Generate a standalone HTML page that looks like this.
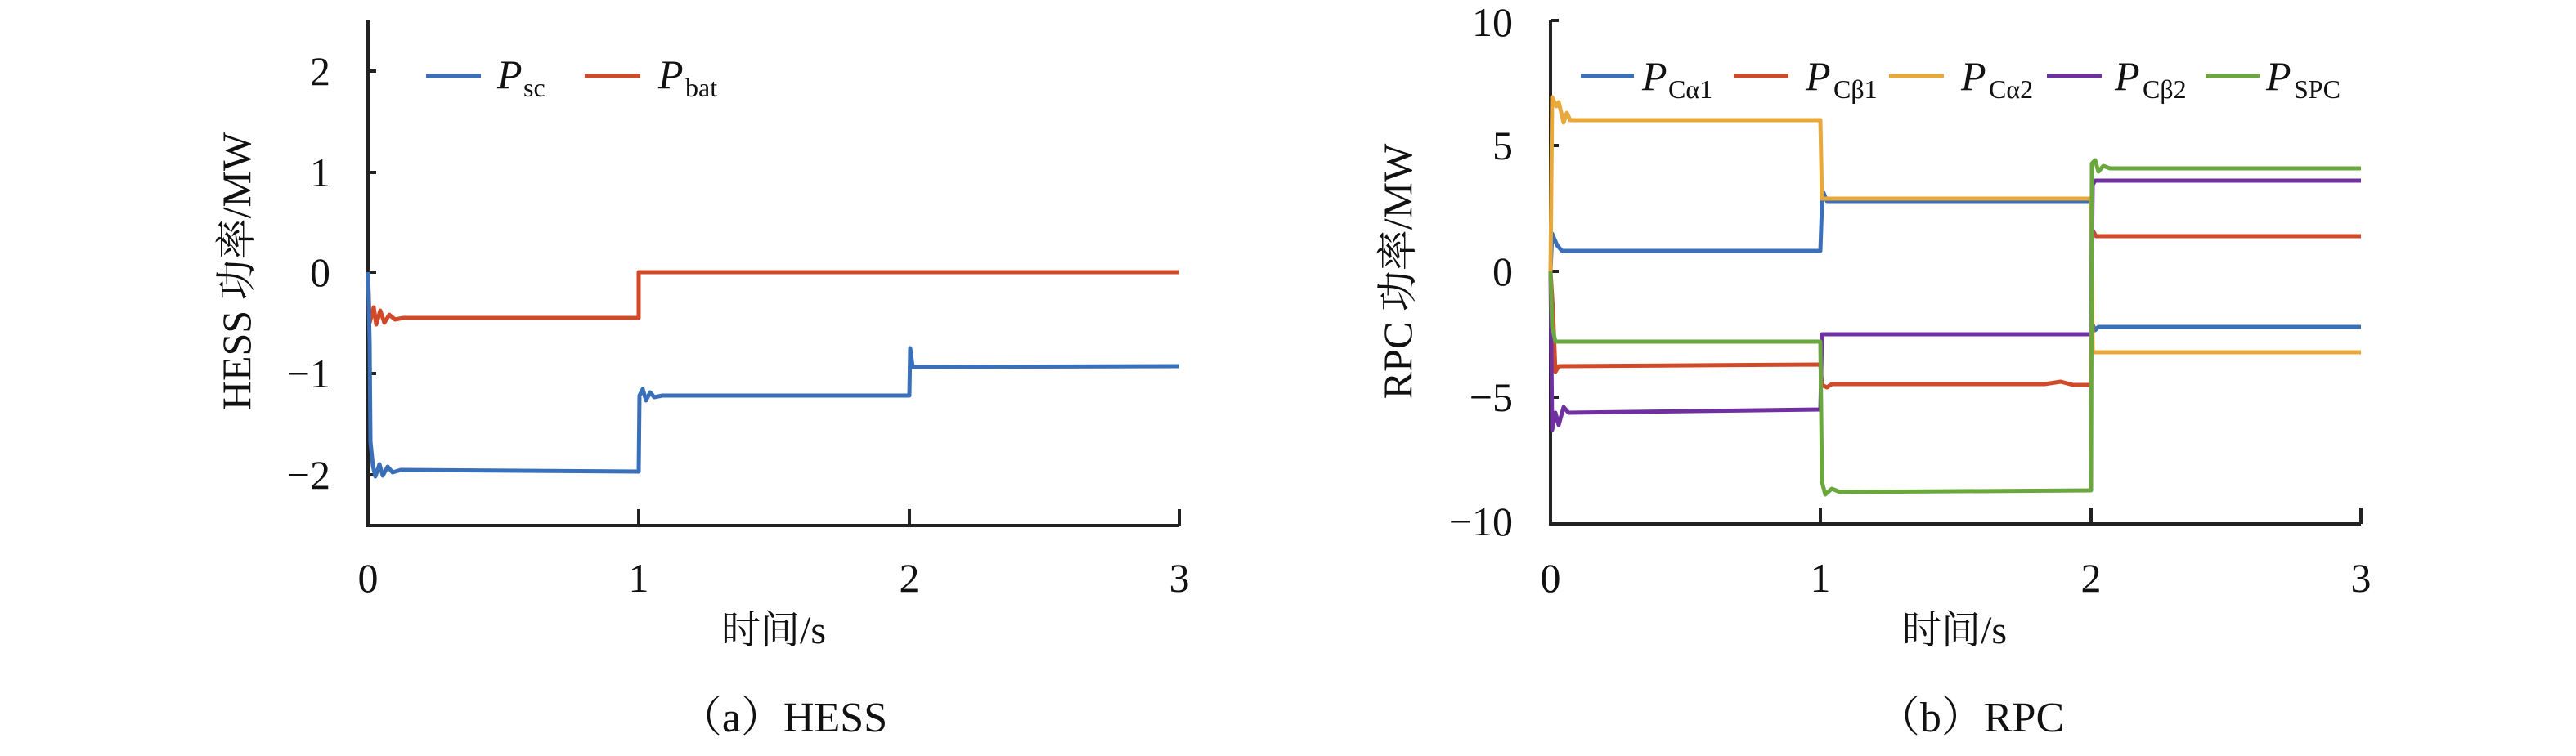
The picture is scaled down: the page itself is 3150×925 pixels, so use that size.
<!DOCTYPE html>
<html><head><meta charset="utf-8"><style>
html,body{margin:0;padding:0;background:#fff;}
svg{display:block;}
text{font-family:"Liberation Serif","Noto Serif CJK SC",serif;fill:#111;}
</style></head><body>
<svg width="3150" height="925" viewBox="0 0 3150 925" xmlns="http://www.w3.org/2000/svg">
<g stroke="#222" stroke-width="4" fill="none">
<path d="M450,25 V643 H1442"/>
<path d="M450,87 h10 M450,211 h10 M450,333 h10 M450,457 h10 M450,581 h10"/>
<path d="M781,643 v-20 M1112,643 v-20 M1442,643 v-20"/>
<path d="M1896,25 V641 H2887"/>
<path d="M1896,25 h10 M1896,178 h10 M1896,332 h10 M1896,486 h10"/>
<path d="M2226,641 v-20 M2557,641 v-20 M2887,641 v-20"/>
</g>
<g font-size="50" text-anchor="end">
<text x="404" y="104">2</text><text x="404" y="228">1</text><text x="404" y="350">0</text><text x="404" y="474">−1</text><text x="404" y="598">−2</text>
<text x="1850" y="44">10</text><text x="1850" y="195">5</text><text x="1850" y="349">0</text><text x="1850" y="503">−5</text><text x="1850" y="655">−10</text>
</g>
<g font-size="50" text-anchor="middle">
<text x="450" y="724">0</text><text x="781" y="724">1</text><text x="1112" y="724">2</text><text x="1442" y="724">3</text>
<text x="1896" y="724">0</text><text x="2226" y="724">1</text><text x="2557" y="724">2</text><text x="2887" y="724">3</text>
<text x="946" y="787" font-size="48">时间/s</text>
<text x="2390" y="787" font-size="48">时间/s</text>
<text x="958" y="895" font-size="52">（a）HESS</text>
<text x="2410" y="895" font-size="52">（b）RPC</text>
<text transform="translate(306,332) rotate(-90)" font-size="50">HESS 功率/MW</text>
<text transform="translate(1726,332) rotate(-90)" font-size="50">RPC 功率/MW</text>
</g>
<g stroke-width="5" fill="none" stroke-linejoin="round">
<path stroke="#d04a2a" d="M450,333 L452,395 457,376 460,397 465,380 470,395 476,385 483,391 493,389 781,389 781,333 1442,333"/>
<path stroke="#3a6fba" d="M450,333 L452,420 453,540 456,570 459,583 464,568 468,582 474,571 480,578 490,575 781,577 782,484 786,476 790,490 795,480 800,486 810,484 1112,484 1113,426 1116,449 1442,448"/>
<path stroke="#3a6fba" d="M1896,332 L1898,286 1904,300 1910,307 2226,307 2228,250 2230,236 2234,246 2557,246 2558,395 2562,404 2566,400 2887,400"/>
<path stroke="#d04a2a" d="M1896,332 L1899,380 1902,455 1906,448 2226,446 2228,471 2234,474 2240,470 2500,470 2520,467 2535,471 2557,471 2558,280 2563,289 2887,289"/>
<path stroke="#e8a93a" d="M1896,332 L1898,119 1903,130 1906,125 1912,150 1916,138 1920,147 2226,147 2228,243 2557,243 2559,431 2887,431"/>
<path stroke="#7030a0" d="M1896,332 L1898,526 1902,505 1906,520 1912,498 1918,505 2226,501 2228,409 2557,409 2559,226 2562,221 2887,221"/>
<path stroke="#6aa83e" d="M1896,332 L1898,400 1902,418 2226,418 2228,590 2232,605 2240,598 2250,602 2557,600 2558,200 2562,196 2566,210 2572,203 2580,206 2887,206"/>
</g>
<g stroke-width="5">
<line x1="521" y1="93" x2="588" y2="93" stroke="#3a6fba"/>
<line x1="715" y1="93" x2="783" y2="93" stroke="#d04a2a"/>
<line x1="1933" y1="93" x2="1998" y2="93" stroke="#3a6fba"/>
<line x1="2120" y1="93" x2="2187" y2="93" stroke="#d04a2a"/>
<line x1="2310" y1="93" x2="2377" y2="93" stroke="#e8a93a"/>
<line x1="2503" y1="93" x2="2570" y2="93" stroke="#7030a0"/>
<line x1="2697" y1="93" x2="2763" y2="93" stroke="#6aa83e"/>
</g>
<g font-size="50">
<text x="608" y="108" font-style="italic">P</text><text x="640" y="118" font-size="32">sc</text>
<text x="805" y="108" font-style="italic">P</text><text x="838" y="118" font-size="32">bat</text>
<text x="2008" y="110" font-style="italic">P</text><text x="2040" y="120" font-size="32">Cα1</text>
<text x="2208" y="110" font-style="italic">P</text><text x="2242" y="120" font-size="32">Cβ1</text>
<text x="2398" y="110" font-style="italic">P</text><text x="2432" y="120" font-size="32">Cα2</text>
<text x="2586" y="110" font-style="italic">P</text><text x="2620" y="120" font-size="32">Cβ2</text>
<text x="2771" y="110" font-style="italic">P</text><text x="2805" y="120" font-size="32">SPC</text>
</g>
</svg>
</body></html>
